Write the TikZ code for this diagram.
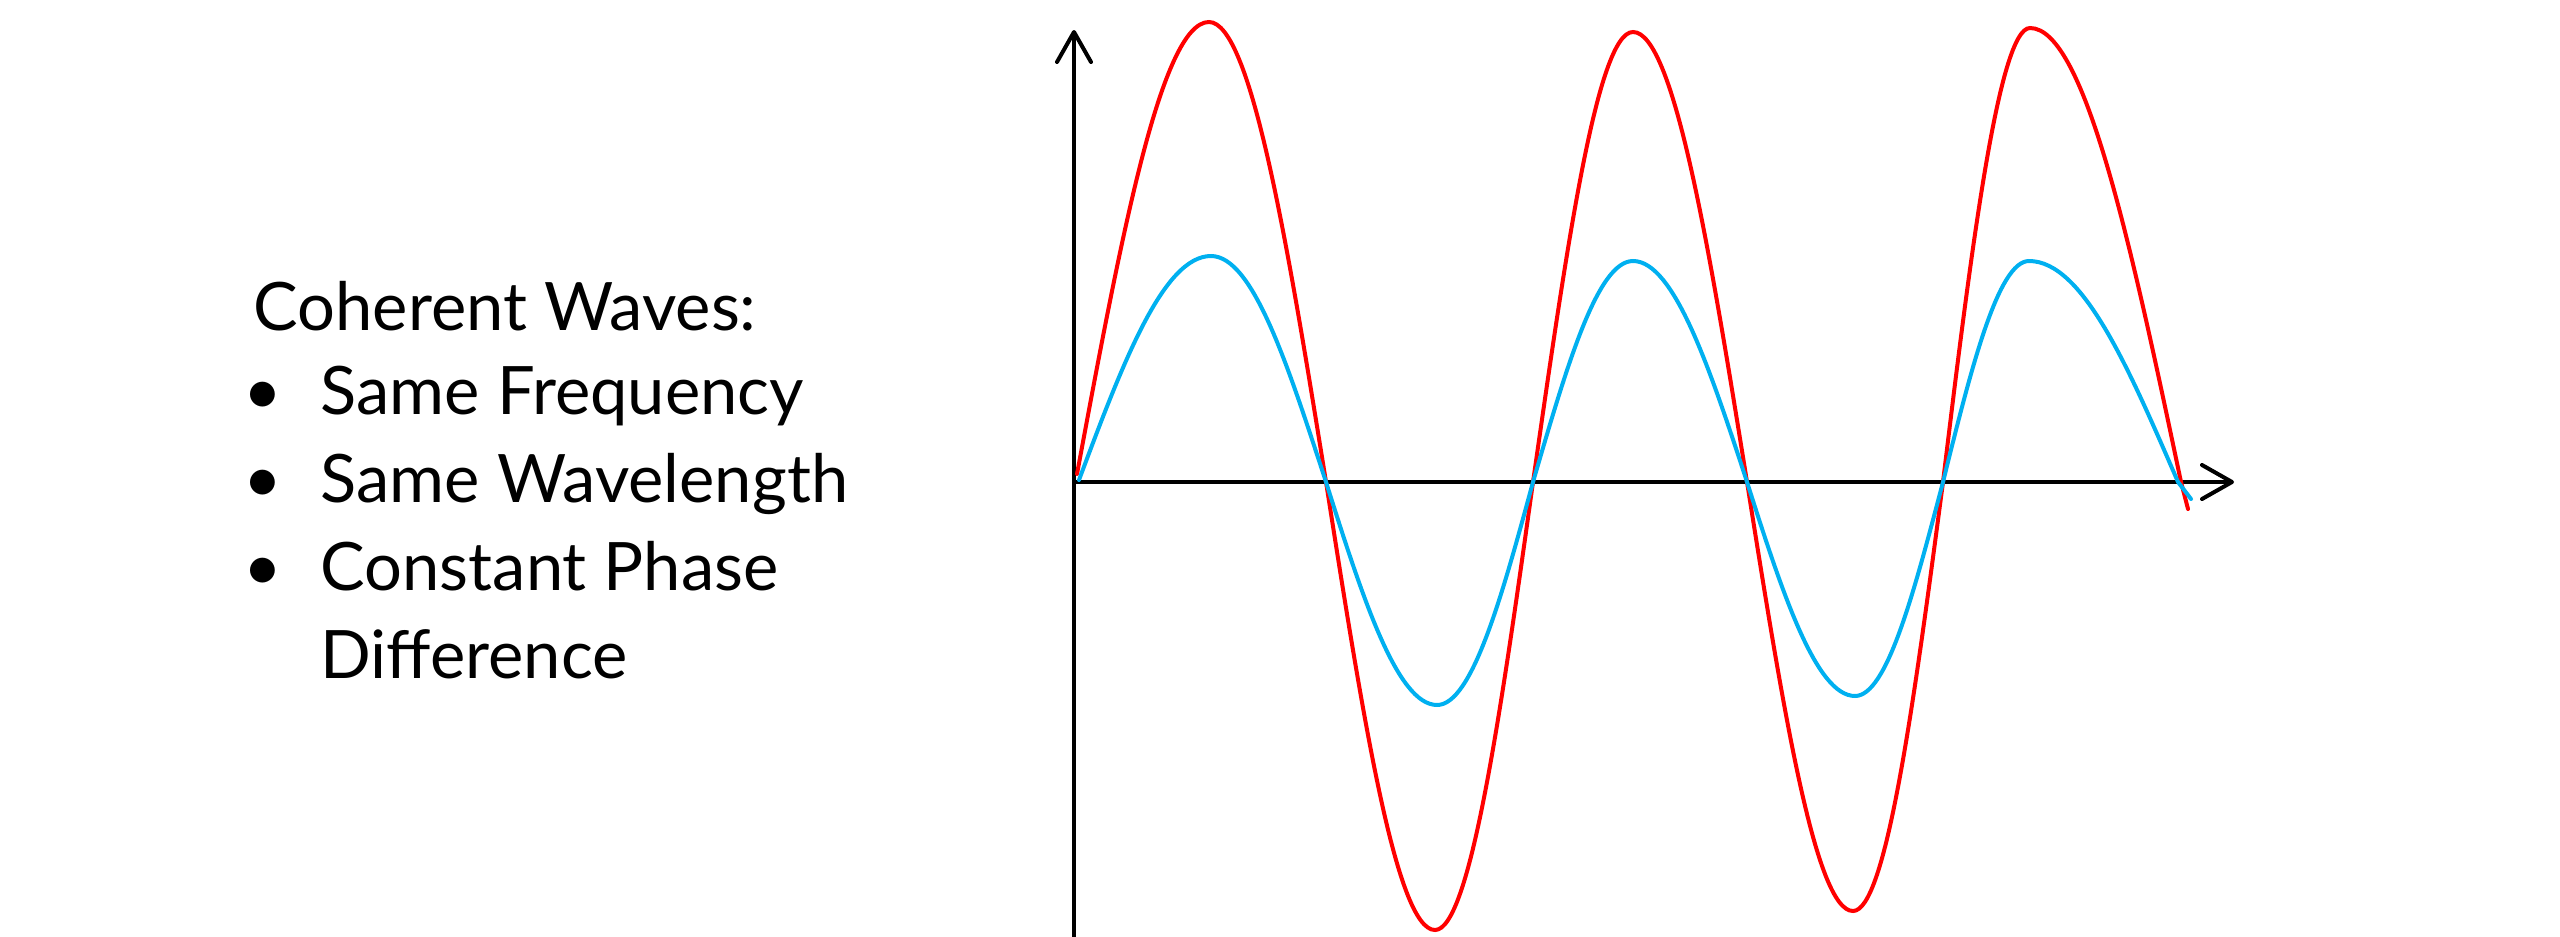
\documentclass[tikz,border=0pt]{standalone}
\usepackage{fontspec}
\setmainfont{Lato}
\usetikzlibrary{arrows.meta}

\definecolor{waveRed}{RGB}{255,0,0}
\definecolor{waveBlue}{RGB}{0,176,240}

\begin{document}
\begin{tikzpicture}[
  x=0.01cm, y=-0.01cm,
  font=\fontsize{19}{25}\selectfont,
  axis/.style={line width=0.4mm, line cap=round,
               -{Straight Barb[length=3mm,width=3.4mm,round]}},
  wave/.style={line width=0.4mm, line cap=round},
  txt/.style={anchor=base west, inner sep=0pt},
  dot/.style={anchor=base, inner sep=0pt},
]
\useasboundingbox (0,0) rectangle (2560,936);

% axes
\coordinate (origin) at (1074,482);
\coordinate (ybot)   at (1074,940);
\coordinate (ytip)   at (1074,30);
\coordinate (xtip)   at (2234,482);
\draw[axis] (ybot) -- (ytip);
\draw[axis] (origin) -- (xtip);

% red wave
\draw[wave, waveRed] (1077,474)
  .. controls (1120,243) and (1161,22) .. (1209,22)
  .. controls (1251,22)  and (1288,246) .. (1326,482)
  .. controls (1362,711) and (1396,930) .. (1435,930)
  .. controls (1470,930) and (1501,711) .. (1533,482)
  .. controls (1566,252) and (1597,32)  .. (1633,32)
  .. controls (1674,32)  and (1710,252) .. (1747,482)
  .. controls (1782,702) and (1815,911) .. (1853,911)
  .. controls (1886,911) and (1914,702) .. (1943,482)
  .. controls (1971,250) and (1999,28)  .. (2030,28)
  .. controls (2085,28)  and (2132,250) .. (2181,482)
  -- (2188,509);

% blue wave
\draw[wave, waveBlue] (1079,480)
  .. controls (1122,365) and (1163,256) .. (1211,256)
  .. controls (1253,256) and (1288,366) .. (1326,482)
  .. controls (1362,596) and (1397,705) .. (1437,705)
  .. controls (1472,705) and (1502,596) .. (1533,482)
  .. controls (1566,369) and (1597,261) .. (1633,261)
  .. controls (1674,261) and (1710,369) .. (1747,482)
  .. controls (1782,592) and (1816,696) .. (1855,696)
  .. controls (1887,696) and (1914,592) .. (1943,482)
  .. controls (1971,369) and (1998,261) .. (2029,261)
  .. controls (2083,261) and (2129,369) .. (2178,482)
  -- (2191,499);

% text
\node[txt] (title) at (253,330) {Coherent Waves:};
\node[dot] (b1) at (263,414) {•};
\node[txt] (freq) at (320,414) {Same Frequency};
\node[dot] (b2) at (263,502) {•};
\node[txt] (wave) at (320,502) {Same Wavelength};
\node[dot] (b3) at (263,590) {•};
\node[txt] (phase) at (320,590) {Constant Phase};
\node[txt] (diff) at (320,678) {Difference};

\end{tikzpicture}
\end{document}
